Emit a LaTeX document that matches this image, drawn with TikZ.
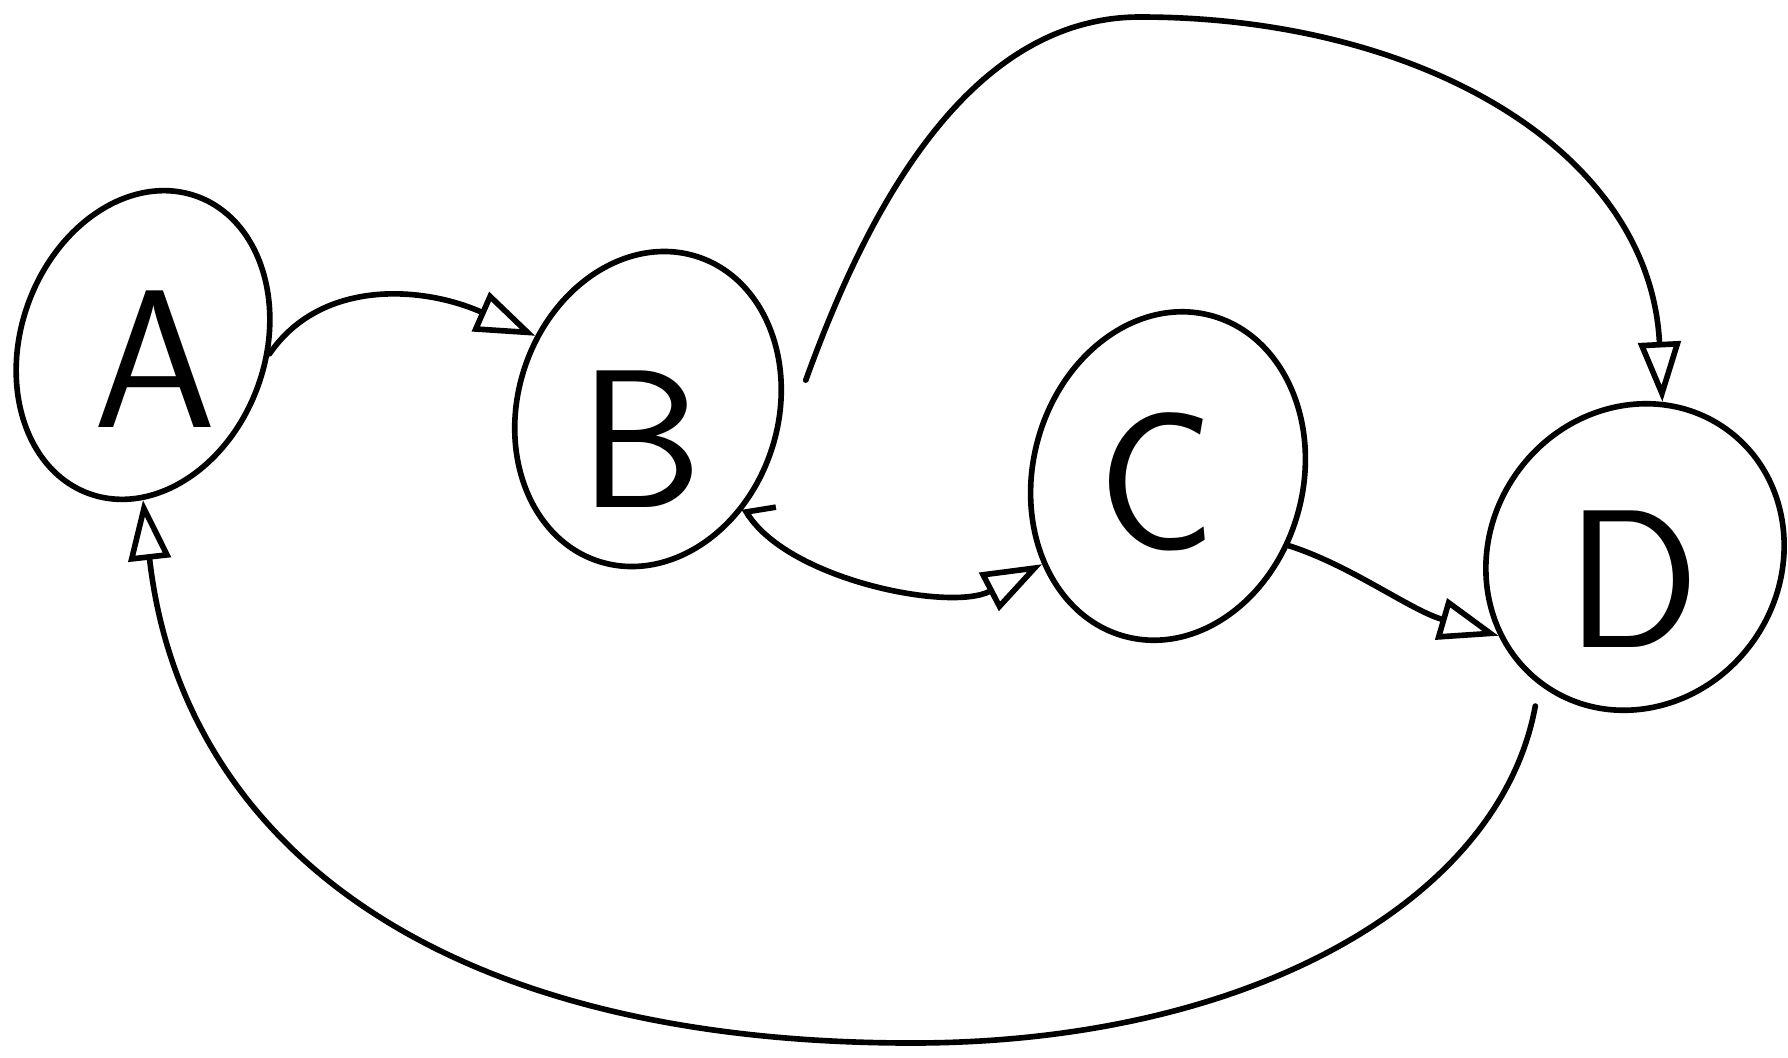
\documentclass[tikz,border=0pt]{standalone}
\usetikzlibrary{arrows.meta,shapes.geometric}
\begin{document}
\begin{tikzpicture}[x=0.01cm,y=-0.01cm,
  line width=1.6pt, line cap=round, line join=round,
  state/.style={ellipse, draw, inner sep=0pt, line width=1.6pt},
  letter/.style={font=\sffamily\fontsize{56}{56}\selectfont, inner sep=0pt},
  arr/.style={-{Triangle[open,length=0.6cm,width=0.42cm,line width=1.6pt]}},
  barb/.style={{Straight Barb[harpoon,swap,length=0.12cm,width=0.55cm,line width=1.6pt]}-{Triangle[open,length=0.6cm,width=0.42cm,line width=1.6pt]}}]
\useasboundingbox (0,0) rectangle (1788,1057);
% states
\node[state, minimum width=2.44cm, minimum height=3.16cm, rotate=-20] (A) at (143,345) {};
\node[state, minimum width=2.6cm, minimum height=3.2cm, rotate=-18] (B) at (648,409) {};
\node[state, minimum width=2.7cm, minimum height=3.32cm, rotate=-15] (C) at (1168,476) {};
\node[state, minimum width=2.9cm, minimum height=3.14cm, rotate=-35] (D) at (1635,557) {};
% letters
\node[letter] (lA) at (155,359) {A};
\node[letter] (lB) at (641,439) {B};
\node[letter] (lC) at (1157,482) {C};
\node[letter] (lD) at (1633,579) {D};
% connectors
\draw[arr] (A.16) .. controls (320,280) and (420,285) .. (B.165);
\draw[arr] ([shift={(22,0)}]B.30) .. controls (860,230) and (960,17) .. (1140,17)
           .. controls (1420,17) and (1650,150) .. (D.115);
\draw[barb] (B.-28) .. controls (790,580) and (950,612) .. (C.230);
\draw[arr] (C.-15) .. controls (1350,565) and (1410,610) .. (D.245);
\draw[arr] ([shift={(-8,18)}]D.-90) .. controls (1500,900) and (1250,1043) .. (912,1043)
           .. controls (420,1043) and (180,830) .. (A.-70);
\end{tikzpicture}
\end{document}
